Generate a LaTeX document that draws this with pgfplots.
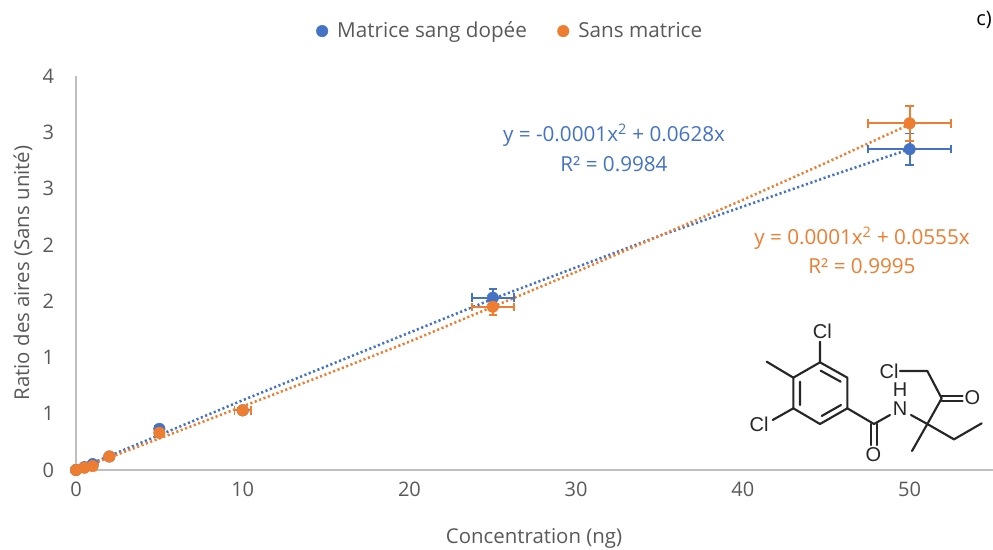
\documentclass[border=0pt]{standalone}
\usepackage{fontspec}
\setmainfont{Open Sans}
\newfontfamily\molfont{Liberation Sans}
\usepackage{pgfplots}
\pgfplotsset{compat=1.18}
\definecolor{cblue}{HTML}{4472C4}
\definecolor{corange}{HTML}{ED7D31}
\definecolor{cgray}{HTML}{595959}
\definecolor{caxis}{HTML}{BFBFBF}
\begin{document}
\begin{tikzpicture}[x=0.75pt,y=0.75pt]
\path[use as bounding box] (0,0) rectangle (993,550);
\begin{axis}[
  at={(57pt,60pt)},anchor=south west,
  scale only axis,width=687.75pt,height=295.5pt,
  xmin=0,xmax=55,ymin=0,ymax=3.5,
  axis lines=left,axis line style={-,draw=caxis,line width=1.5pt},
  clip=false,
  xtick={0,10,20,30,40,50},
  ytick={0,0.5,1,1.5,2,2.5,3,3.5},
  yticklabels={0,1,1,2,2,3,3,4},
  major tick length=0pt,
  /pgf/number format/assume math mode=true,
  tick label style={font=\fontsize{15}{17}\selectfont,text=cgray},
  xticklabel style={yshift=-5.5pt},
  yticklabel style={xshift=-13pt},
  xlabel={Concentration (ng)},ylabel={Ratio des aires (Sans unité)},
  label style={font=\fontsize{15.3}{17}\selectfont,text=cgray},
  xlabel style={at={(axis description cs:0.4995,-0.174)},anchor=center},
  ylabel style={at={(axis description cs:-0.0578,0.5)},anchor=center},
  legend columns=2,
  legend style={draw=none,fill=none,at={(axis description cs:0.474,1.114)},anchor=center,
    font=\fontsize{15.5}{17}\selectfont,text=cgray,
    /tikz/every even column/.append style={column sep=21pt}},
  legend cell align=left,
  error bars/error bar style={line width=1.3pt},
  error bars/error mark options={rotate=90,mark size=3.2pt,line width=1.3pt},
]
% trendlines
\addplot[forget plot,cblue,line width=1.9pt,dash pattern=on 1.6pt off 1.9pt] coordinates {
(0,0)(2,0.125)(5,0.31)(10,0.62)(15,0.92)(20,1.22)(25,1.52)(30,1.80)(35,2.08)(40,2.34)(45,2.60)(50,2.85)};
\addplot[forget plot,corange,line width=1.9pt,dash pattern=on 1.6pt off 1.9pt] coordinates {
(0,0)(2,0.11)(5,0.28)(10,0.565)(15,0.85)(20,1.14)(25,1.45)(30,1.76)(35,2.08)(40,2.40)(45,2.73)(50,3.07)};
% series
\addplot[only marks,mark=*,mark size=4.3pt,cblue,mark options={draw=cblue,fill=cblue},
  error bars/.cd,x dir=both,x explicit,y dir=both,y explicit,
  error bar style={cblue}] coordinates {
(0,0) +- (0,0.005)
(0.5,0.025) +- (0.02,0.005)
(1,0.052) +- (0.05,0.005)
(2,0.12) +- (0.1,0.01)
(5,0.365) +- (0.25,0.02)
(10,0.53) +- (0.5,0.02)
(25,1.53) +- (1.25,0.08)
(50,2.85) +- (2.5,0.14)};
\addlegendentry{\hspace{5pt}Matrice sang dopée}
\addplot[only marks,mark=*,mark size=4.3pt,corange,mark options={draw=corange,fill=corange},
  error bars/.cd,x dir=both,x explicit,y dir=both,y explicit,
  error bar style={corange}] coordinates {
(0,0) +- (0,0.005)
(0.5,0.02) +- (0.02,0.005)
(1,0.035) +- (0.05,0.005)
(2,0.12) +- (0.1,0.01)
(5,0.33) +- (0.25,0.02)
(10,0.53) +- (0.5,0.02)
(25,1.45) +- (1.25,0.07)
(50,3.08) +- (2.5,0.155)};
\addlegendentry{\hspace{5pt}Sans matrice}
\end{axis}
% texts
\node[font=\fontsize{15}{17}\selectfont,text=black] at (984,530) {c)};
\node[font=\fontsize{15.5}{17}\selectfont,text=cblue] at (614,415) {y = -0.0001x\textsuperscript{2} + 0.0628x};
\node[font=\fontsize{15.5}{17}\selectfont,text=cblue] at (614,386) {R² = 0.9984};
\node[font=\fontsize{15.5}{17}\selectfont,text=corange] at (862,312) {y = 0.0001x\textsuperscript{2} + 0.0555x};
\node[font=\fontsize{15.5}{17}\selectfont,text=corange] at (862,284) {R² = 0.9995};
% molecule
\begin{scope}[shift={(730,240)},x=0.25pt,y=-0.25pt,line width=1.6pt,line cap=round,line join=round,draw=black!85]
\draw (270,157)--(352,203)--(352,295)--(270,342)--(190,295)--(190,203)--cycle;
\draw (272,182)--(332,215) (210,215)--(210,285) (275,318)--(333,285);
\draw (270,157)--(270,95) (190,203)--(110,155) (190,295)--(128,330);
\draw (352,295)--(432,342)--(480,315);
\draw (424,342)--(424,405) (440,342)--(440,405);
\draw (543,315)--(592,342)--(546,423);
\draw (592,342)--(672,388)--(755,340);
\draw (592,342)--(635,265)--(592,183)--(510,183);
\draw (635,257)--(698,257) (635,272)--(698,272);
\begin{scope}[every node/.style={font=\molfont\fontsize{15}{15}\selectfont,text=black!85,inner sep=0pt}]
\node at (277,65) {Cl};
\node at (87,342) {Cl};
\node at (477,185) {Cl};
\node at (430,435) {O};
\node at (727,263) {O};
\node at (510,295) {N};
\node at (510,238) {H};
\end{scope}
\end{scope}
\end{tikzpicture}
\end{document}
